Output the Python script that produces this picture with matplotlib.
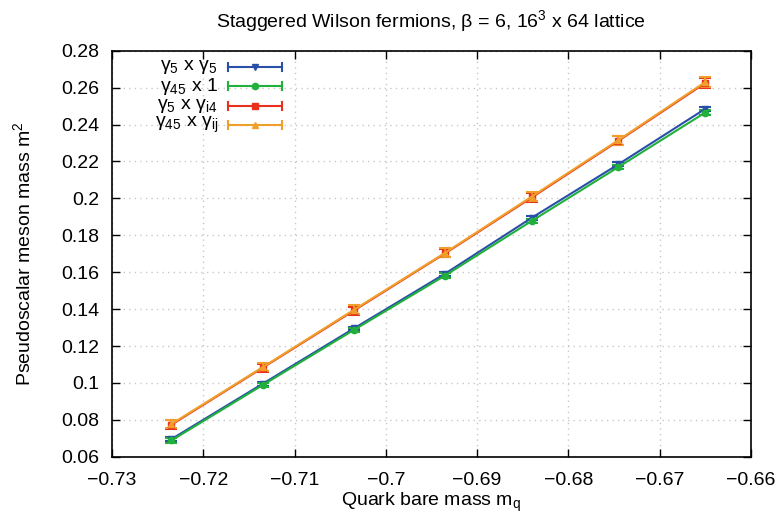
import matplotlib
matplotlib.use("Agg")
import matplotlib.pyplot as plt
from matplotlib.ticker import FuncFormatter, MultipleLocator

plt.rcParams['font.family'] = ['Liberation Sans', 'DejaVu Sans']
plt.rcParams['mathtext.fontset'] = 'custom'
plt.rcParams['mathtext.rm'] = 'Liberation Sans'
plt.rcParams['mathtext.it'] = 'Liberation Sans'
plt.rcParams['mathtext.default'] = 'regular'

mq = [-0.7235, -0.7135, -0.7035, -0.6935, -0.6840, -0.6745, -0.6650]

labels = ["γ$_5$ x γ$_5$", "γ$_{45}$ x 1", "γ$_5$ x γ$_{i4}$", "γ$_{45}$ x γ$_{ij}$"]
m2_g5g5 = [0.0695, 0.0995, 0.1295, 0.1592, 0.1895, 0.2185, 0.2485]
e_g5g5 = [0.0012, 0.0010, 0.0010, 0.0010, 0.0010, 0.0010, 0.0010]
m2_g45 = [0.0688, 0.0988, 0.1287, 0.1582, 0.1878, 0.2170, 0.2465]
e_g45 = [0.0012, 0.0010, 0.0010, 0.0012, 0.0012, 0.0012, 0.0012]
m2_g5gi4 = [0.0773, 0.1082, 0.1392, 0.1702, 0.2005, 0.2312, 0.2625]
e_g5gi4 = [0.0024, 0.0022, 0.0022, 0.0022, 0.0024, 0.0024, 0.0026]
m2_g45gij = [0.0777, 0.1085, 0.1396, 0.1705, 0.2010, 0.2316, 0.2630]
e_g45gij = [0.0024, 0.0022, 0.0024, 0.0024, 0.0024, 0.0024, 0.0026]

series = [m2_g5g5, m2_g45, m2_g5gi4, m2_g45gij]
errors = [e_g5g5, e_g45, e_g5gi4, e_g45gij]
colors = ['#2a4fa8', '#22b03c', '#e8301c', '#f0a02a']
markers = ['v', 'o', 's', '^']
msizes = [4, 4.5, 5, 4]

fig = plt.figure(figsize=(7.78, 5.18), dpi=100)
ax = fig.add_axes([0.144, 0.1183, 0.821, 0.7837])

for y, e, c, m, ms in zip(series, errors, colors, markers, msizes):
    ax.errorbar(mq, y, yerr=e, color=c, marker=m, ms=ms, lw=1.5,
                elinewidth=1.5, capsize=4, capthick=1.5, zorder=3)

ax.set_xlim(-0.73, -0.66)
ax.set_ylim(0.06, 0.28)
ax.xaxis.set_major_locator(MultipleLocator(0.01))
ax.yaxis.set_major_locator(MultipleLocator(0.02))
ax.xaxis.set_major_formatter(FuncFormatter(lambda v, p: f"{round(v, 4):g}".replace('-', '\u2212')))
ax.yaxis.set_major_formatter(FuncFormatter(lambda v, p: f"{round(v, 4):g}"))
ax.tick_params(direction='in', top=True, right=True, length=6, width=1,
               labelsize=14)
ax.tick_params(axis='x', pad=11)
ax.tick_params(axis='y', pad=9)
ax.grid(True, linestyle=(0, (1, 3)), color='#c8c8c8', lw=1)
for s in ax.spines.values():
    s.set_linewidth(1.2)

ax.set_title("Staggered Wilson fermions, β = 6, 16$^3$ x 64 lattice", fontsize=14, pad=17)
ax.set_xlabel("Quark bare mass m$_q$", fontsize=14, labelpad=1)
ax.set_ylabel("Pseudoscalar meson mass m$^2$", fontsize=14, labelpad=20)

# gnuplot-style key
W = 639.0
H = 406.0
x0 = (228 - 112) / W
x1 = (282 - 112) / W
xm = (x0 + x1) / 2
xt = (218 - 112) / W
ys = [(456.7 - yy) / H for yy in [67, 86, 105.5, 124.5]]
cap = 4.0 / H
for lab, c, m, ms, yy in zip(labels, colors, markers, msizes, ys):
    ax.plot([x0, x1], [yy, yy], color=c, lw=1.5, transform=ax.transAxes, clip_on=False, zorder=4)
    for xx in (x0, x1):
        ax.plot([xx, xx], [yy - cap, yy + cap], color=c, lw=1.5, transform=ax.transAxes, clip_on=False, zorder=4)
    ax.plot([xm], [yy], marker=m, ms=ms, color=c, transform=ax.transAxes, clip_on=False, zorder=4)
    ax.text(xt, yy, lab, transform=ax.transAxes, ha='right', va='center', fontsize=14)

fig.savefig("out.png", dpi=100)
